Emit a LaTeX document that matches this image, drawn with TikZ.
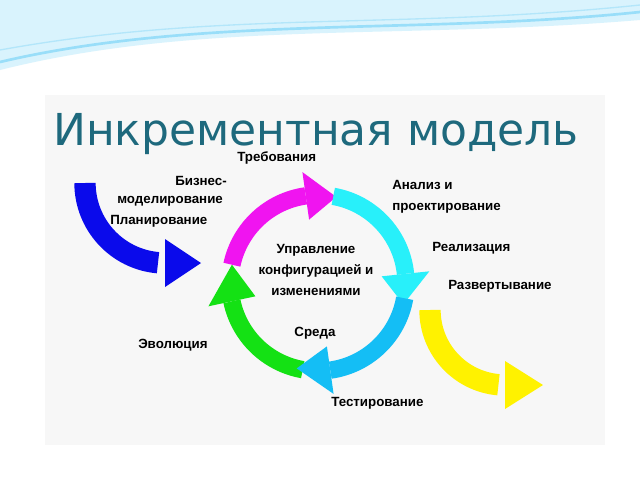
\documentclass[tikz,border=0pt]{standalone}
\usepackage{fontspec}
\setmainfont{Liberation Sans}
\newfontfamily\titlefont{DejaVu Sans}
\usetikzlibrary{calc}
\definecolor{titleteal}{RGB}{30,105,125}
\definecolor{ringmag}{RGB}{240,20,240}
\definecolor{ringcyan}{RGB}{40,240,250}
\definecolor{ringsky}{RGB}{20,190,245}
\definecolor{ringgreen}{RGB}{20,225,20}
\definecolor{inblue}{RGB}{10,10,235}
\tikzset{ lbl/.style = { font=\bfseries\fontsize{10}{12}\selectfont
                       , inner sep = 0pt
                       , anchor = west
                       },
          band/.style = { line width = 13pt }
        }
% ring segment: colour, start angle, end angle of band, tip angle (y axis is flipped)
\newcommand{\ringarrow}[4]{%
  \draw[band, #1] (ctr) ++(-#2:88) arc[start angle=-#2, end angle=-#3, radius=88];
  \fill[#1] ($(ctr)+(-#3:64)$) -- ($(ctr)+(-#3:112)$) -- ($(ctr)+(-#4:88)$) -- cycle;
}
\begin{document}
\begin{tikzpicture}[x=0.75pt, y=-0.75pt]
  \useasboundingbox (0,0) rectangle (640,480);
  % slide background
  \fill[white] (0,0) rectangle (640,480);
  \fill[cyan!15] (0,0) -- (640,0) -- (640,20) .. controls (400,40) and (200,20) .. (0,70) -- cycle;
  \draw[cyan!40, line width=2pt] (0,62) .. controls (200,15) and (420,35) .. (640,12);
  \draw[cyan!30, line width=1pt] (0,50) .. controls (220,10) and (400,30) .. (640,5);
  \fill[gray!6] (45,95) rectangle (605,445);
  % title
  \node[font=\titlefont\fontsize{33}{38}\selectfont, text=titleteal] (title) at (316,134) {Инкрементная модель};

  \coordinate (ctr) at (318,283);
  % input and output arrows
  \coordinate (inc) at (165,183);
  \draw[band, inblue, line width=16pt] (inc) ++(180:80) arc[start angle=180, end angle=95, radius=80];
  \fill[inblue] ($(inc)+(0,56)$) -- ($(inc)+(0,104)$) -- ($(inc)+(36,80)$) -- cycle;
  \coordinate (outc) at (505,310);
  \draw[band, yellow, line width=16pt] (outc) ++(180:75) arc[start angle=180, end angle=95, radius=75];
  \fill[yellow] ($(outc)+(0,51)$) -- ($(outc)+(0,99)$) -- ($(outc)+(38,75)$) -- cycle;

  % cycle
  \ringarrow{ringgreen}{-100}{-168}{-192}
  \ringarrow{ringmag}{168}{98}{78}
  \ringarrow{ringcyan}{80}{6}{-14}
  \ringarrow{ringsky}{-10}{-82}{-104}

  % labels
  \node[lbl] (req) at (237,158) {Требования};
  \node[lbl] (biz) at (175,181) {Бизнес-};
  \node[lbl] (mod) at (117,201) {моделирование};
  \node[lbl] (plan) at (110,221) {Планирование};
  \node[lbl] (an) at (392,185) {Анализ и};
  \node[lbl] (pr) at (392,208) {проектирование};
  \node[lbl] (real) at (432,248) {Реализация};
  \node[lbl] (dep) at (448,286) {Развертывание};
  \node[lbl, anchor=center, align=center] (mgmt) at (316,270)
        {Управление\\[4pt]конфигурацией и\\[4pt]изменениями};
  \node[lbl, anchor=center] (env) at (315,333) {Среда};
  \node[lbl] (evo) at (138,345) {Эволюция};
  \node[lbl] (test) at (331,403) {Тестирование};
\end{tikzpicture}
\end{document}
